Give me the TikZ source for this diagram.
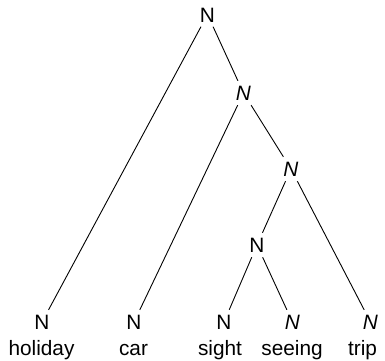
\documentclass[tikz,border=0pt]{standalone}
\usepackage{fontspec}
\setmainfont{Liberation Sans}
\begin{document}
\begin{tikzpicture}[x=1pt,y=-1pt,
  cat/.style={inner sep=0pt, inner ysep=4.5pt, text height=15pt, text depth=0pt, font=\fontsize{20.8}{24}\selectfont},
  icat/.style={cat, font=\fontsize{20.8}{24}\selectfont\itshape},
  word/.style={anchor=base, inner sep=0pt, font=\fontsize{20.8}{24}\selectfont},
  edge/.style={draw=black, line width=0.9pt}]
\useasboundingbox (0,0) rectangle (385,360);
\node[cat]  (r)  at (207.5,14.5) {N};
\node[icat] (m)  at (243.5,93) {N};
\node[icat] (n3) at (291,169) {N};
\node[cat]  (n4) at (257,245) {N};
\node[cat]  (l1) at (42,322) {N};
\node[cat]  (l2) at (134,322) {N};
\node[cat]  (l3) at (224,322) {N};
\node[icat] (l4) at (292.5,322) {N};
\node[icat] (l5) at (370.5,322) {N};
\node[word] (w1) at (41.5,355) {holiday};
\node[word] (w2) at (133.5,355) {car};
\node[word] (w3) at (220,355) {sight};
\node[word] (w4) at (292,355) {seeing};
\node[word] (w5) at (362.5,355) {trip};
\path[edge] (r) -- (l1);
\path[edge] (r) -- (m);
\path[edge] (m) -- (l2);
\path[edge] (m) -- (n3);
\path[edge] (n3) -- (n4);
\path[edge] (n3) -- (l5);
\path[edge] (n4) -- (l3);
\path[edge] (n4) -- (l4);
\end{tikzpicture}
\end{document}
